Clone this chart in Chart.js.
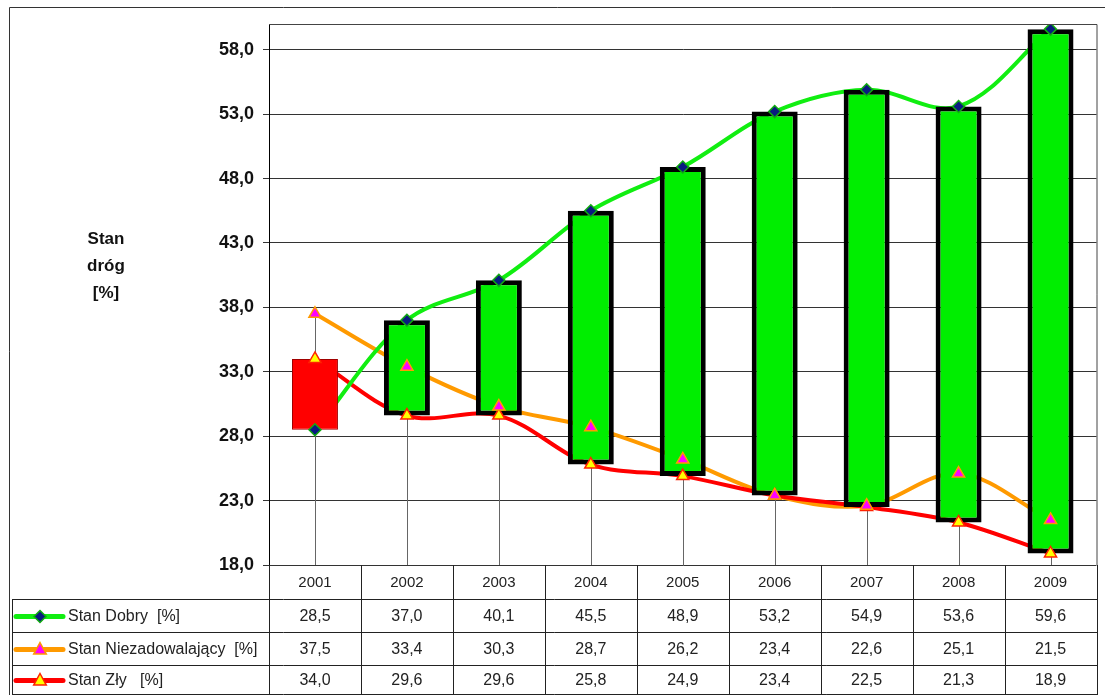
<!DOCTYPE html>
<html>
<head>
<meta charset="utf-8">
<script src="https://cdn.jsdelivr.net/npm/chart.js@4/dist/chart.umd.min.js"></script>
<style>
html,body{margin:0;padding:0;background:#fff;}
#wrap{width:1105px;height:695px;position:relative;}
</style>
</head>
<body>
<div id="wrap"><canvas id="c" width="1105" height="695"></canvas></div>
<script>
const years = ['2001','2002','2003','2004','2005','2006','2007','2008','2009'];
const stanDobry = [28.5, 37.0, 40.1, 45.5, 48.9, 53.2, 54.9, 53.6, 59.6];
const stanNiezad = [37.5, 33.4, 30.3, 28.7, 26.2, 23.4, 22.6, 25.1, 21.5];
const stanZly = [34.0, 29.6, 29.6, 25.8, 24.9, 23.4, 22.5, 21.3, 18.9];
const yTicks = [18, 23, 28, 33, 38, 43, 48, 53, 58];
const seriesNames = ['Stan Dobry  [%]', 'Stan Niezadowalający  [%]', 'Stan Zły   [%]'];
const yTitle = ['Stan', 'dróg', '[%]'];

const fmt = v => v.toFixed(1).replace('.', ',');
const FONT = '"Liberation Sans", Arial, sans-serif';

const GREEN = '#11ee11', ORANGE = '#ff9a00', RED = '#ff0000';

const barData = years.map((_, i) => [Math.min(stanDobry[i], stanZly[i]), Math.max(stanDobry[i], stanZly[i])]);
const up = years.map((_, i) => stanDobry[i] >= stanZly[i]);

function drawMarker(ctx, kind, x, y) {
  ctx.save();
  if (kind === 'diamond') {
    const r = 6;
    ctx.beginPath();
    ctx.moveTo(x, y - r); ctx.lineTo(x + r, y); ctx.lineTo(x, y + r); ctx.lineTo(x - r, y); ctx.closePath();
    ctx.fillStyle = '#0a1a80'; ctx.fill();
    ctx.lineWidth = 1.5; ctx.strokeStyle = '#11aa11'; ctx.stroke();
  } else {
    const r = 7;
    ctx.beginPath();
    ctx.moveTo(x, y - r); ctx.lineTo(x + r * 0.9, y + r * 0.65); ctx.lineTo(x - r * 0.9, y + r * 0.65); ctx.closePath();
    ctx.fillStyle = kind === 'magenta' ? '#ff00ff' : '#ffff00'; ctx.fill();
    ctx.lineWidth = 1.5; ctx.strokeStyle = kind === 'magenta' ? '#ff9a00' : '#ff2200'; ctx.stroke();
  }
  ctx.restore();
}

const tablePlugin = {
  id: 'tablePlugin',
  beforeDatasetsDraw(chart) {
    const ctx = chart.ctx, xs = chart.scales.x, ys = chart.scales.y, a = chart.chartArea;
    ctx.save();
    ctx.strokeStyle = '#666'; ctx.lineWidth = 1;
    years.forEach((_, i) => {
      const x = Math.round(xs.getPixelForValue(i)) + 0.5;
      const top = ys.getPixelForValue(Math.max(stanDobry[i], stanNiezad[i], stanZly[i]));
      ctx.beginPath(); ctx.moveTo(x, top); ctx.lineTo(x, a.bottom); ctx.stroke();
    });
    ctx.restore();
  },
  afterDraw(chart) {
    const ctx = chart.ctx, xs = chart.scales.x, a = chart.chartArea;
    ctx.save();
    // plot border
    ctx.strokeStyle = '#444'; ctx.lineWidth = 1;
    ctx.beginPath();
    ctx.moveTo(a.left, a.top + 0.5); ctx.lineTo(a.right + 0.5, a.top + 0.5); ctx.lineTo(a.right + 0.5, a.bottom);
    ctx.stroke();
    // outer border
    ctx.strokeStyle = '#333';
    ctx.beginPath(); ctx.moveTo(9.5, 695); ctx.lineTo(9.5, 7.5); ctx.lineTo(1105, 7.5); ctx.stroke();

    // table
    const centers = years.map((_, i) => xs.getPixelForValue(i));
    const half = (centers[1] - centers[0]) / 2;
    const rowY = [a.bottom, 599, 632, 665, 694];
    ctx.strokeStyle = '#222'; ctx.lineWidth = 1;
    // vertical lines
    for (let k = 0; k <= years.length; k++) {
      const x = Math.round(k < years.length ? centers[k] - half : centers[years.length - 1] + half) + 0.5;
      ctx.beginPath(); ctx.moveTo(x, a.bottom); ctx.lineTo(x, 695); ctx.stroke();
    }
    ctx.beginPath(); ctx.moveTo(12.5, rowY[1]); ctx.lineTo(12.5, 695); ctx.stroke();
    for (let r = 1; r < rowY.length; r++) {
      ctx.beginPath(); ctx.moveTo(12, rowY[r] + 0.5); ctx.lineTo(a.right + 1, rowY[r] + 0.5); ctx.stroke();
    }
    // years
    ctx.fillStyle = '#222'; ctx.textAlign = 'center'; ctx.textBaseline = 'middle';
    ctx.font = '15px ' + FONT;
    years.forEach((y, i) => ctx.fillText(y, centers[i], (rowY[0] + rowY[1]) / 2 + 1));
    // values
    ctx.font = '16px ' + FONT;
    const series = [stanDobry, stanNiezad, stanZly];
    series.forEach((s, r) => {
      const cy = (rowY[r + 1] + rowY[r + 2]) / 2 + 1;
      s.forEach((v, i) => ctx.fillText(fmt(v), centers[i], cy));
    });
    // legend column
    const lineCols = [GREEN, ORANGE, RED];
    const marks = ['diamond', 'magenta', 'yellow'];
    ctx.textAlign = 'left';
    series.forEach((s, r) => {
      const cy = (rowY[r + 1] + rowY[r + 2]) / 2 + 1;
      ctx.strokeStyle = lineCols[r]; ctx.lineWidth = 5; ctx.lineCap = 'round';
      ctx.beginPath(); ctx.moveTo(16, cy); ctx.lineTo(63, cy); ctx.stroke();
      drawMarker(ctx, marks[r], 40, cy);
      ctx.fillStyle = '#222'; ctx.font = '16px ' + FONT;
      ctx.fillText(seriesNames[r], 68, cy);
    });
    // y title
    ctx.fillStyle = '#111'; ctx.textAlign = 'center'; ctx.font = 'bold 17px ' + FONT;
    yTitle.forEach((t, k) => ctx.fillText(t, 106, 239 + k * 27));
    ctx.restore();
  }
};

const lineBase = { type: 'line', pointRadius: 0, borderWidth: 4, tension: 0.35, fill: false };
const markBase = { type: 'line', showLine: false, order: 0, pointBorderWidth: 1.5 };

new Chart(document.getElementById('c'), {
  data: {
    labels: years,
    datasets: [
      { ...markBase, data: stanDobry, pointStyle: 'rectRot', pointRadius: 6, pointBackgroundColor: '#0a1a80', pointBorderColor: '#11aa11' },
      { ...markBase, data: stanNiezad, pointStyle: 'triangle', pointRadius: 7, pointBackgroundColor: '#ff00ff', pointBorderColor: '#ff9a00' },
      { ...markBase, data: stanZly, pointStyle: 'triangle', pointRadius: 7, pointBackgroundColor: '#ffff00', pointBorderColor: '#ff2200' },
      { type: 'bar', order: 1, data: barData,
        backgroundColor: up.map(u => u ? '#00ee00' : '#ff0000'),
        borderColor: up.map(u => u ? '#000000' : '#a00000'),
        borderWidth: up.map(u => u ? 5 : 1),
        borderSkipped: false, barPercentage: 0.5, categoryPercentage: 1 },
      { ...lineBase, order: 2, data: stanDobry, borderColor: GREEN },
      { ...lineBase, order: 3, data: stanZly, borderColor: RED },
      { ...lineBase, order: 4, data: stanNiezad, borderColor: ORANGE }
    ]
  },
  options: {
    responsive: false,
    animation: false,
    devicePixelRatio: 1,
    layout: { padding: { left: 0, right: 8, top: 24, bottom: 130 } },
    plugins: { legend: { display: false }, tooltip: { enabled: false } },
    scales: {
      x: { display: false, offset: true },
      y: {
        min: 18, max: 60,
        afterBuildTicks: s => { s.ticks = yTicks.map(v => ({ value: v })); },
        afterFit: s => { s.width = 269; s.paddingTop = 0; s.paddingBottom = 0; },
        ticks: { callback: v => fmt(v), color: '#111', padding: 9, font: { family: FONT, size: 18, weight: 'bold' } },
        grid: { color: '#333', lineWidth: 1, tickLength: 6, drawTicks: true },
        border: { display: true, color: '#000', width: 1 }
      }
    }
  },
  plugins: [tablePlugin]
});
</script>
</body>
</html>
